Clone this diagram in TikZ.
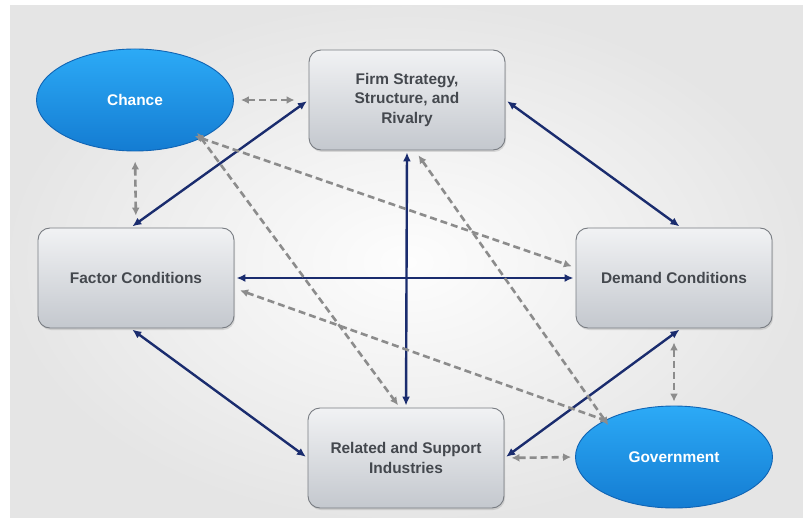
\documentclass[tikz,border=0pt]{standalone}
\usepackage{fontspec}
\setmainfont{Liberation Sans}
\usepackage{tikz}
\usetikzlibrary{calc,positioning,arrows,shapes}
\usetikzlibrary{shadows}
\usetikzlibrary{arrows.meta}

\definecolor{navy}{RGB}{26,44,110}
\definecolor{dashgray}{RGB}{140,140,140}
\definecolor{boxtop}{RGB}{241,242,244}
\definecolor{boxbot}{RGB}{196,200,206}
\definecolor{boxline}{RGB}{120,124,130}
\definecolor{boxtext}{RGB}{68,72,78}
\definecolor{blobtop}{RGB}{44,170,246}
\definecolor{blobbot}{RGB}{20,124,210}
\definecolor{blobline}{RGB}{16,100,180}

\begin{document}
\begin{tikzpicture}[x=1bp,y=-1bp,
    box/.style={rectangle, rounded corners=12bp, draw=boxline, line width=0.9bp,
        top color=boxtop, bottom color=boxbot, minimum width=196bp, minimum height=100bp,
        align=center, text=boxtext, font=\bfseries\fontsize{15.5}{19.5}\selectfont,
        drop shadow={opacity=0.25, shadow xshift=1bp, shadow yshift=-2bp}},
    blob/.style={ellipse, draw=blobline, line width=0.9bp, top color=blobtop, bottom color=blobbot,
        minimum width=197bp, minimum height=102bp, text=white,
        font=\bfseries\fontsize{15.5}{19.5}\selectfont},
    link/.style={draw=navy, line width=2.4bp, shorten <=2bp, shorten >=2bp,
        {Latex[length=9bp,width=8bp]}-{Latex[length=9bp,width=8bp]}},
    dlink/.style={draw=dashgray, line width=2.6bp, dash pattern=on 7bp off 4bp,
        {Latex[length=8bp,width=8bp]}-{Latex[length=8bp,width=8bp]}}]
        \useasboundingbox (0,0) rectangle (803,518);
        \fill[white] (0,0) rectangle (803,518);
        \shade[inner color=white!70!gray!5, outer color=gray!20] (10,6) rectangle (803,518);

        % the four corners
        \node[box] (firm) at (407,100) {Firm Strategy,\\Structure, and\\Rivalry};
        \node[box] (factor) at (136,278) {Factor Conditions};
        \node[box] (demand) at (674,278) {Demand Conditions};
        \node[box] (related) at (406,458) {Related and Support\\Industries};

        % outside influences
        \node[blob] (chance) at (135,100) {Chance};
        \node[blob] (gov) at (674,457) {Government};

        \draw[link] (factor.96) -- (firm.west);
        \draw[link] (firm.east) -- (demand.82);
        \draw[link] (firm.south) -- (related.north);
        \draw[link] (factor.east) -- (demand.west);
        \draw[link] (factor.264) -- (related.west);
        \draw[link] (related.east) -- (demand.278);

        \draw[dlink, shorten <=7bp, shorten >=14bp] (chance.east) -- (firm.west);
        \draw[dlink, shorten <=10bp, shorten >=12bp] (chance.south) -- (factor.north);
        \draw[dlink, shorten <=-7bp, shorten >=4bp] (chance.-30) -- (demand.174);
        \draw[dlink, shorten <=-7bp, shorten >=3bp] (chance.-30) -- (related.97);
        \draw[dlink, shorten <=6bp, shorten >=-6bp] (firm.279) -- (gov.152);
        \draw[dlink, shorten <=6bp, shorten >=-4bp] (factor.-6) -- (gov.152);
        \draw[dlink, shorten <=7bp, shorten >=4bp] (related.east) -- (gov.west);
        \draw[dlink, shorten <=14bp, shorten >=4bp] (demand.south) -- (gov.north);
    \end{tikzpicture}
\end{document}
